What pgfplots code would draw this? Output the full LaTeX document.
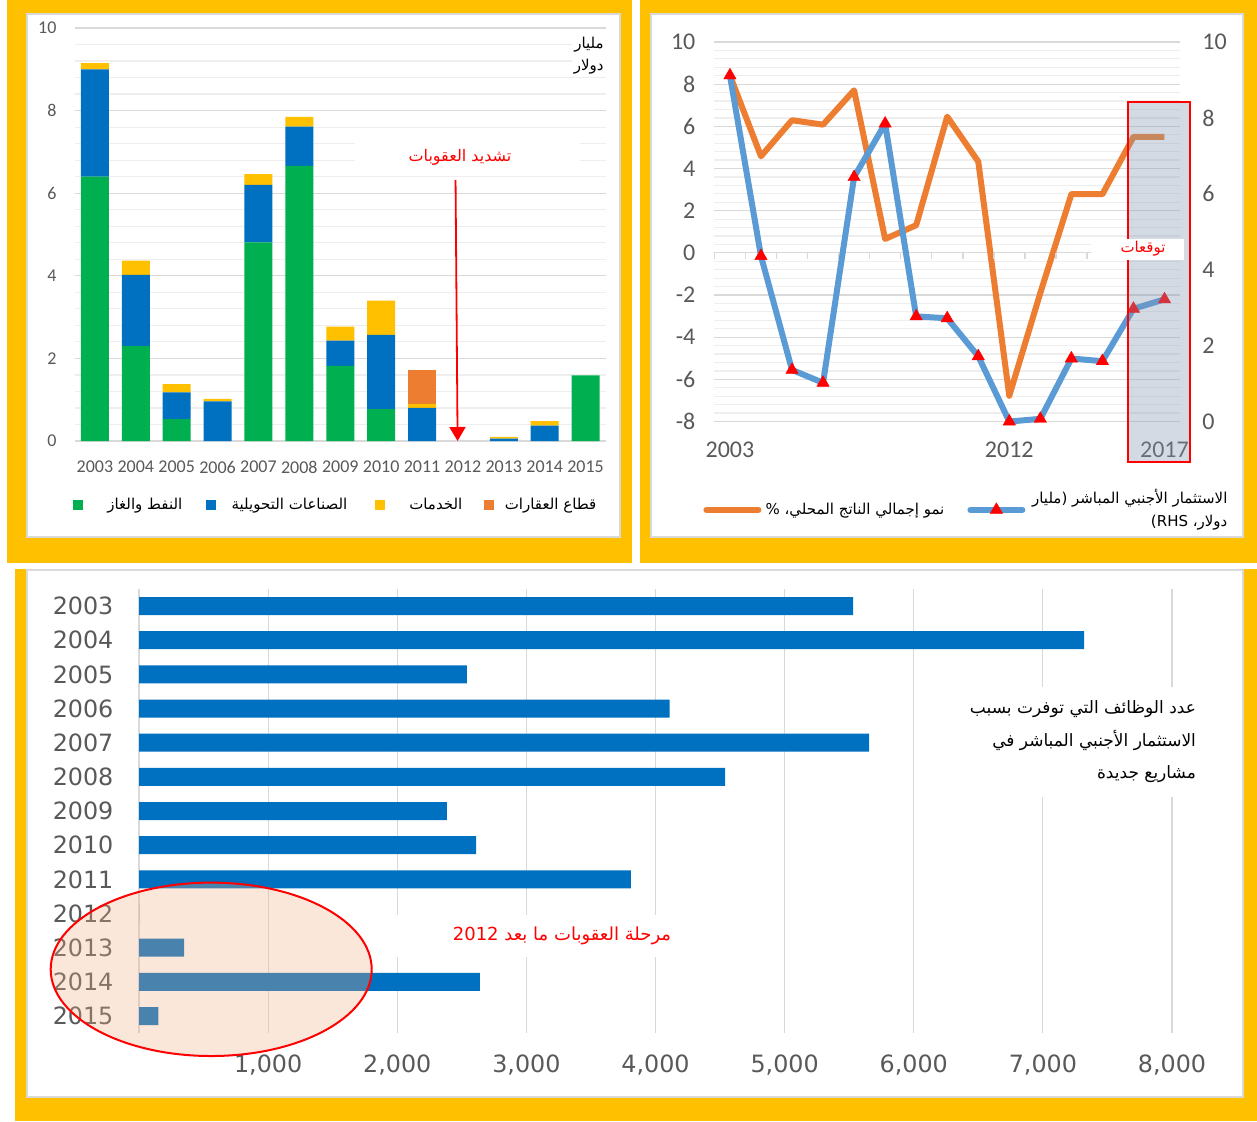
\documentclass[border=0pt]{standalone}
\usepackage{pgfplots}
\usepackage{pgfplotstable}
\pgfplotsset{compat=1.18}
\usetikzlibrary{arrows.meta}
\usepackage{fontspec}
\setmainfont{Carlito}
\newfontfamily\dejavu{DejaVu Sans}
\newfontfamily\ar[Script=Arabic]{DejaVu Sans}
\TeXXeTstate=1

\definecolor{bgyellow}{HTML}{FFC000}
\definecolor{panelborder}{HTML}{D9D9D9}
\definecolor{gridmaj}{HTML}{D9D9D9}
\definecolor{gridmin}{HTML}{EEEEEE}
\definecolor{ticktext}{HTML}{595959}
\definecolor{cgreen}{HTML}{00B050}
\definecolor{cblue}{HTML}{0070C0}
\definecolor{cyellow}{HTML}{FFC000}
\definecolor{corange}{HTML}{ED7D31}
\definecolor{lblue}{HTML}{5B9BD5}
\definecolor{fcgray}{HTML}{8497B0}
\definecolor{peach}{HTML}{F4B183}

% FDI by sector, billion USD (stacked bars)
\pgfplotstableread{
idx oil manuf serv real
0  6.40 2.60 0.15 0
1  2.30 1.72 0.35 0
2  0.53 0.65 0.20 0
3  0.00 0.96 0.06 0
4  4.81 1.39 0.26 0
5  6.66 0.95 0.24 0
6  1.82 0.61 0.34 0
7  0.77 1.80 0.83 0
8  0.00 0.80 0.10 0.83
9  0    0    0    0
10 0    0.06 0.04 0
11 0    0.37 0.11 0
12 1.59 0    0    0
}\sectors

% GDP growth (%, left) and FDI (bn USD, right), 2003-2017
\pgfplotstableread{
idx gdp fdi
0  8.42 9.12
1  4.58 4.36
2  6.29 1.36
3  6.08 1.02
4  7.71 6.44
5  0.66 7.85
6  1.31 2.77
7  6.46 2.72
8  4.33 1.72
9  -6.78 0.00
10 -1.90 0.07
11 2.78 1.66
12 2.78 1.59
13 5.50 2.97
14 5.50 3.22
}\growth

% jobs created by greenfield FDI
\pgfplotstableread{
idx jobs
0  5530
1  7320
2  2540
3  4110
4  5655
5  4540
6  2385
7  2610
8  3810
9  0
10 350
11 2640
12 150
}\jobs

\pgfplotsset{
  /pgf/number format/assume math mode=true,
  sqlegend/.style={legend image code/.code={\fill[##1] (0pt,-2.5pt) rectangle (5pt,2.5pt);}},
  linelegend/.style={legend image code/.code={\draw[mark repeat=2,mark phase=2,line cap=round,##1] plot coordinates {(0pt,0pt) (13pt,0pt) (26pt,0pt)};}},
}

\begin{document}
\begin{tikzpicture}
\useasboundingbox (0pt,0pt) rectangle (628.5pt,-560.5pt);
\fill[white] (0pt,0pt) rectangle (628.5pt,-560.5pt);
\fill[bgyellow] (3.5pt,0pt) rectangle (316pt,-281.5pt);
\fill[bgyellow] (320pt,0pt) rectangle (628.5pt,-281.5pt);
\fill[bgyellow] (7.5pt,-284.5pt) rectangle (628.5pt,-560.5pt);
\filldraw[fill=white, draw=panelborder, line width=1pt] (13.5pt,-7pt) rectangle (310pt,-268.5pt);
\filldraw[fill=white, draw=panelborder, line width=1pt] (325.5pt,-7pt) rectangle (621.5pt,-268.5pt);
\filldraw[fill=white, draw=panelborder, line width=1pt] (13.5pt,-285pt) rectangle (621.5pt,-548.5pt);

% ---------- panel A: FDI by sector ----------
\begin{axis}[
  at={(37.25pt,-220.5pt)}, anchor=south west,
  width=265.75pt, height=206.5pt, scale only axis,
  ybar stacked, bar width=14pt,
  xmin=-0.5, xmax=12.5, ymin=0, ymax=10,
  xtick={0,...,12},
  xticklabels={2003,2004,2005,2006,2007,2008,2009,2010,2011,2012,2013,2014,2015},
  ytick={0,2,...,10}, minor y tick num=4,
  ymajorgrids, yminorgrids,
  major grid style={gridmaj, line width=0.6pt},
  minor grid style={gridmin, line width=0.6pt},
  axis line style={draw=none},
  major tick style={draw=none}, minor tick style={draw=none},
  ticklabel style={font=\fontsize{9}{10}\selectfont, text=ticktext},
  yticklabel style={xshift=-5.5pt},
  xticklabel style={yshift=-6.5pt},
  clip=false,
  legend columns=4,
  legend style={draw=none, fill=none, at={(-0.003,-0.155)}, anchor=west,
    inner sep=0pt, nodes={inner sep=0pt}, column sep=0pt,
    font={\ar\fontsize{7.5}{9}\selectfont}},
]
\addplot[fill=cgreen, draw=none, sqlegend] table[x=idx,y=oil]{\sectors};
\addlegendentry{\makebox[61.5pt][l]{\makebox[49.5pt][r]{\beginR النفط والغاز\endR}}}
\addplot[fill=cblue, draw=none, sqlegend] table[x=idx,y=manuf]{\sectors};
\addlegendentry{\makebox[79.5pt][l]{\makebox[65.5pt][r]{\beginR الصناعات التحويلية\endR}}}
\addplot[fill=cyellow, draw=none, sqlegend] table[x=idx,y=serv]{\sectors};
\addlegendentry{\makebox[49.5pt][l]{\makebox[38.5pt][r]{\beginR الخدمات\endR}}}
\addplot[fill=corange, draw=none, sqlegend] table[x=idx,y=real]{\sectors};
\addlegendentry{\makebox[51pt][r]{\beginR قطاع العقارات\endR}}
\draw[red, line width=0.9pt, -{Triangle[width=8pt,length=7pt]}] (axis cs:8.82,6.32) -- (axis cs:8.87,0);
\node[anchor=north east, fill=white, align=right, inner sep=1pt,
  font={\ar\fontsize{7.5}{11}\selectfont}] at (axis cs:12.5,9.85)
  {\beginR مليار\endR\\\beginR دولار\endR};
\end{axis}
% label of the arrow, on a white patch that hides the grid
\fill[white] (177.5pt,-68pt) rectangle (290pt,-88pt);
\node[text=red, font={\ar\fontsize{8}{9}\selectfont}] at (230pt,-78.5pt) {\beginR تشديد العقوبات\endR};

% ---------- panel B: GDP growth and FDI ----------
\begin{axis}[
  at={(357.2pt,-210.75pt)}, anchor=south west,
  width=232.8pt, height=189.75pt, scale only axis,
  xmin=-0.5, xmax=14.5, ymin=-8, ymax=10,
  xtick={0,9,14}, xticklabels={2003,2012,2017},
  ytick={-8,-6,...,10}, minor y tick num=4,
  ymajorgrids, yminorgrids,
  major grid style={gridmaj, line width=0.6pt},
  minor grid style={gridmin, line width=0.6pt},
  axis line style={draw=none},
  major tick style={draw=none}, minor tick style={draw=none},
  ticklabel style={font=\fontsize{12}{14}\selectfont, text=ticktext},
  yticklabel style={xshift=-6pt},
  xticklabel style={yshift=-6.5pt},
  clip=false,
]
\addplot[corange, line width=3pt, line join=round] table[x=idx,y=gdp]{\growth};
\pgfplotsinvokeforeach{-0.5,0.5,...,13.5}{\draw[gridmaj, line width=0.8pt] (axis cs:#1,0) -- ++(0pt,-3pt);}
\end{axis}
\begin{axis}[
  at={(357.2pt,-210.75pt)}, anchor=south west,
  width=232.8pt, height=189.75pt, scale only axis,
  xmin=-0.5, xmax=14.5, ymin=0, ymax=10,
  axis x line=none, axis y line*=right,
  ytick={0,2,...,10},
  axis line style={draw=none},
  major tick style={draw=none},
  ticklabel style={font=\fontsize{12}{14}\selectfont, text=ticktext},
  yticklabel style={xshift=7.7pt},
  clip=false,
  legend columns=2,
  legend style={draw=none, fill=none, at={(-0.0245,-0.233)}, anchor=west,
    inner sep=0pt, nodes={inner sep=0pt}, column sep=0pt,
    font={\ar\fontsize{7.5}{11.5}\selectfont}},
]
\addlegendimage{corange, line width=3pt, linelegend}
\addlegendentry{\makebox[103pt][l]{\makebox[91.5pt][r]{\beginR نمو إجمالي الناتج المحلي، \%\endR}}}
\addplot[lblue, line width=3pt, line join=round, linelegend,
  mark=triangle*, mark size=3.6pt, mark options={fill=red, draw=red, line width=0.2pt}]
  table[x=idx,y=fdi]{\growth};
\addlegendentry{\makebox[101pt][r]{\raisebox{8pt}{\begin{tabular}{@{}r@{}}\beginR الاستثمار الأجنبي المباشر (مليار\endR\\\beginR دولار، \beginL RHS\endL)\endR\end{tabular}}}}
\end{axis}
\fill[fcgray, opacity=0.35] (563.75pt,-51pt) rectangle (594.9pt,-231pt);
\draw[red, line width=1pt] (563.75pt,-51pt) rectangle (594.9pt,-231pt);
\fill[white] (545.5pt,-119.5pt) rectangle (591.8pt,-130pt);
\node[text=red, font={\ar\fontsize{7.5}{9}\selectfont}] at (571.5pt,-124.5pt) {\beginR توقعات\endR};

% ---------- panel C: jobs created ----------
\begin{axis}[
  at={(69.5pt,-516.55pt)}, anchor=south west,
  width=516.5pt, height=222.1pt, scale only axis,
  xbar, bar width=9pt,
  xmin=0, xmax=8000, ymin=-0.5, ymax=12.5, y dir=reverse,
  ytick={0,...,12},
  yticklabels={2003,2004,2005,2006,2007,2008,2009,2010,2011,2012,2013,2014,2015},
  xtick={1000,2000,...,8000},
  extra x ticks={0}, extra x tick labels={},
  xmajorgrids,
  major grid style={gridmaj, line width=0.6pt},
  axis line style={draw=none},
  major tick style={draw=none},
  /pgf/number format/1000 sep={,},
  ticklabel style={font={\dejavu\fontsize{11.9}{14}\selectfont}, text=ticktext},
  yticklabel style={xshift=-5pt},
  xticklabel style={yshift=-7.2pt},
  clip=false,
]
\addplot[fill=cblue, draw=none] table[x=jobs,y=idx]{\jobs};
\fill[white] (axis cs:6203,2.37) rectangle (axis cs:8294,5.59);
\node[anchor=east, align=right, font={\ar\fontsize{8.5}{16.25}\selectfont}] at (axis cs:8240,3.97)
  {\beginR عدد الوظائف التي توفرت بسبب\endR\\\beginR الاستثمار الأجنبي المباشر في\endR\\\beginR مشاريع جديدة\endR};
\fill[white] (axis cs:1944,9.04) rectangle (axis cs:4344,10.27);
\node[text=red, font={\ar\fontsize{9}{10}\selectfont}] at (axis cs:3276,9.66)
  {\beginR مرحلة العقوبات ما بعد \beginL 2012\endL\endR};
\end{axis}
\draw[fill=peach, fill opacity=0.3, draw=red, line width=1pt] (105.6pt,-484.65pt) ellipse [x radius=80.25pt, y radius=43.35pt];
\end{tikzpicture}
\end{document}
